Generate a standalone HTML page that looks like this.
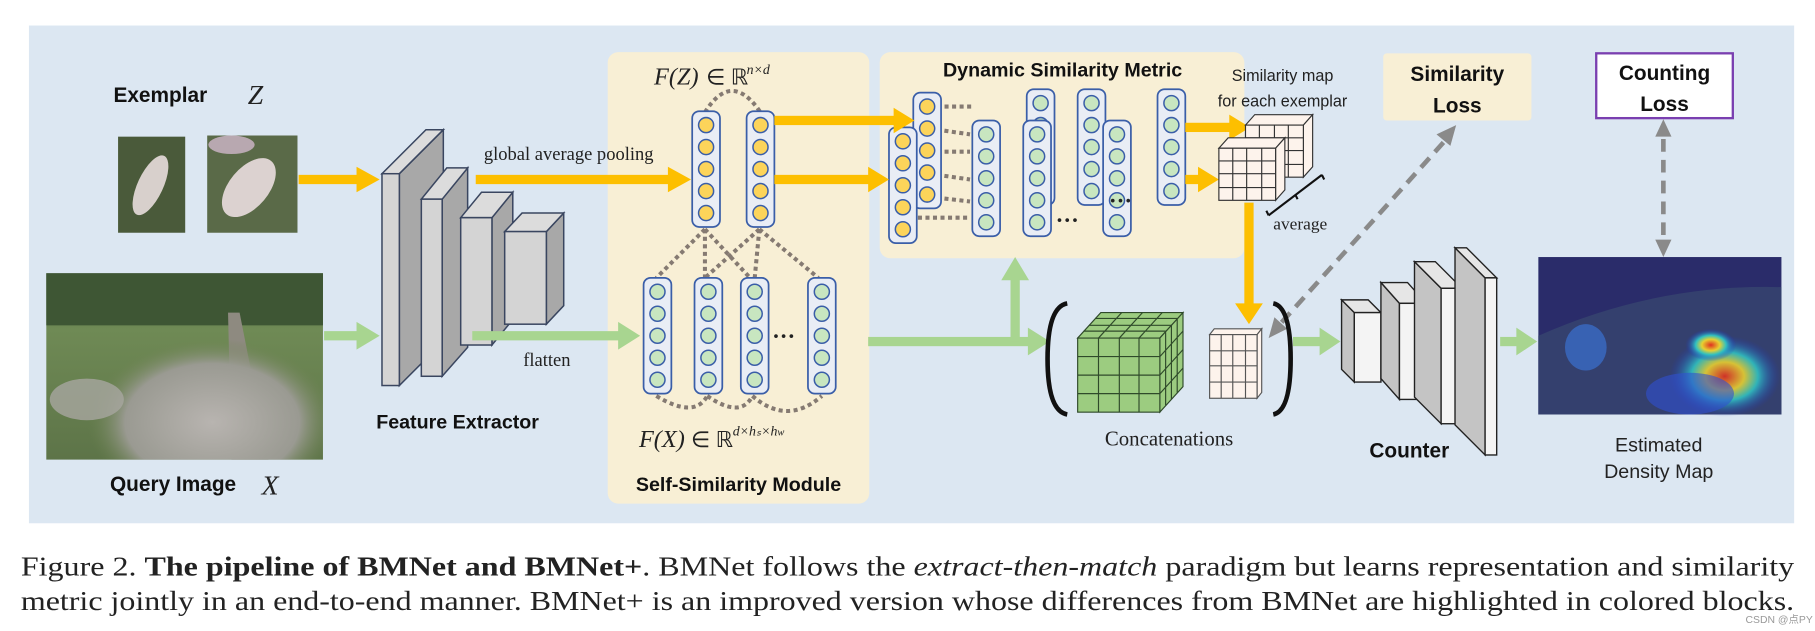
<!DOCTYPE html>
<html><head><meta charset="utf-8"><style>
html,body{margin:0;padding:0;background:#fff;width:1815px;height:631px;overflow:hidden}
svg{display:block}
.sb{font-family:"Liberation Sans","DejaVu Sans",sans-serif;font-weight:bold;fill:#111}
.s{font-family:"Liberation Sans","DejaVu Sans",sans-serif;fill:#222}
.sf{font-family:"Liberation Serif",serif;fill:#222}
</style></head><body>
<svg width="1815" height="631" viewBox="0 0 1568 545" xmlns="http://www.w3.org/2000/svg">
<defs>
<g id="vy"><rect x="0" y="0" width="24" height="100" rx="6" fill="#e9edf5" stroke="#3a5ea8" stroke-width="1.5"/>
<g fill="#fcd45a" stroke="#3a5ea8" stroke-width="1.3"><circle cx="12" cy="12" r="6.5"/><circle cx="12" cy="31" r="6.5"/><circle cx="12" cy="50" r="6.5"/><circle cx="12" cy="69" r="6.5"/><circle cx="12" cy="88" r="6.5"/></g></g>
<g id="vg"><rect x="0" y="0" width="24" height="100" rx="6" fill="#e9edf5" stroke="#3a5ea8" stroke-width="1.5"/>
<g fill="#c8e6c0" stroke="#3a5ea8" stroke-width="1.3"><circle cx="12" cy="12" r="6.5"/><circle cx="12" cy="31" r="6.5"/><circle cx="12" cy="50" r="6.5"/><circle cx="12" cy="69" r="6.5"/><circle cx="12" cy="88" r="6.5"/></g></g>
<linearGradient id="field" x1="0" y1="0" x2="0" y2="1"><stop offset="0" stop-color="#3f5a35"/><stop offset="0.3" stop-color="#6f8a55"/><stop offset="1" stop-color="#5d7448"/></linearGradient>
<radialGradient id="sheep" cx="0.6" cy="0.8" r="0.45"><stop offset="0" stop-color="#b8b4b0"/><stop offset="0.7" stop-color="#9a9a92"/><stop offset="1" stop-color="#6d8250" stop-opacity="0"/></radialGradient>
<radialGradient id="hot" cx="0.5" cy="0.5" r="0.5"><stop offset="0" stop-color="#e03020"/><stop offset="0.35" stop-color="#e8d030"/><stop offset="0.6" stop-color="#30c0c0"/><stop offset="1" stop-color="#2030c0" stop-opacity="0"/></radialGradient>
</defs>
<rect x="25" y="22" width="1525" height="430" fill="#dce7f2"/>
<!-- exemplar -->
<text x="98" y="88" class="sb" font-size="18">Exemplar</text>
<text x="214" y="90" class="sf" font-size="24" font-style="italic">Z</text>
<rect x="102" y="118" width="58" height="83" fill="#4a5a3a"/>
<ellipse cx="130" cy="160" rx="11" ry="28" fill="#d8d0cc" transform="rotate(25 130 160)"/>
<rect x="179" y="117" width="78" height="84" fill="#5a6a48"/>
<ellipse cx="215" cy="162" rx="17" ry="30" fill="#dcd2d0" transform="rotate(40 215 162)"/>
<ellipse cx="200" cy="125" rx="20" ry="8" fill="#b8a8b0"/>
<!-- query -->
<rect x="40" y="236" width="239" height="161" fill="url(#field)"/>
<rect x="40" y="236" width="239" height="45" fill="#3e5634"/>
<path d="M197 270 L207 270 L232 397 L200 397Z" fill="#8e8a80"/>
<rect x="40" y="236" width="239" height="161" fill="url(#sheep)"/>
<ellipse cx="75" cy="345" rx="32" ry="18" fill="#a8a6a0" opacity="0.8"/>
<text x="95" y="424" class="sb" font-size="18">Query Image</text>
<text x="226" y="427" class="sf" font-size="24" font-style="italic">X</text>
<!-- feature extractor -->
<g stroke="#3a4660" stroke-width="1.3">
<polygon points="345,150 383,112 383,295 345,333" fill="#a8a8a8"/><polygon points="330,150 345,150 383,112 368,112" fill="#dcdcdc"/><rect x="330" y="150" width="15" height="183" fill="#d4d4d4"/>
<polygon points="382,172 404,145 404,300 382,325" fill="#a8a8a8"/><polygon points="364,172 382,172 404,145 386,145" fill="#dcdcdc"/><rect x="364" y="172" width="18" height="153" fill="#d4d4d4"/>
<polygon points="425,188 443,166 443,276 425,298" fill="#a8a8a8"/><polygon points="398,188 425,188 443,166 416,166" fill="#dcdcdc"/><rect x="398" y="188" width="27" height="110" fill="#d4d4d4"/>
<polygon points="472,200 487,184 487,264 472,280" fill="#a8a8a8"/><polygon points="436,200 472,200 487,184 451,184" fill="#dcdcdc"/><rect x="436" y="200" width="36" height="80" fill="#d4d4d4"/>
</g>
<text x="325" y="370" class="sb" font-size="17">Feature Extractor</text>
<!-- self-similarity module -->
<rect x="525" y="45" width="226" height="390" rx="9" fill="#f8efd5"/>
<text x="638" y="424" class="sb" font-size="17" text-anchor="middle">Self-Similarity Module</text>
<text x="565" y="73" class="sf" font-size="21" font-style="italic">F(Z)</text><text x="610" y="73" class="sf" font-size="19">∈ ℝ</text><text x="645" y="64" class="sf" font-size="12" font-style="italic">n×d</text>
<text x="552" y="386" class="sf" font-size="21" font-style="italic">F(X)</text><text x="597" y="386" class="sf" font-size="19">∈ ℝ</text><text x="633" y="376" class="sf" font-size="12" font-style="italic">d×hₛ×h<tspan font-size="9">w</tspan></text>
<g stroke="#857a72" stroke-width="3.5" stroke-dasharray="3.5 3" fill="none">
<path d="M609 97 Q632 60 657 97"/>
<path d="M609 198 L567 240 M609 198 L609 240 M609 198 L648 240 M656 198 L609 240 M656 198 L652 240 M656 198 L707 240"/>
<path d="M567 342 Q600 362 611 342 M611 342 Q640 362 650 342 M650 342 Q680 368 710 342"/>
</g>
<use href="#vy" x="598" y="96"/><use href="#vy" x="645" y="96"/>
<use href="#vg" x="556" y="240"/><use href="#vg" x="600" y="240"/><use href="#vg" x="640" y="240"/><use href="#vg" x="698" y="240"/>
<text x="667" y="297" class="sf" font-size="20" font-weight="bold">···</text>
<!-- DSM -->
<rect x="760" y="45" width="315" height="178" rx="9" fill="#f8efd5"/>
<text x="918" y="66" class="sb" font-size="17" text-anchor="middle">Dynamic Similarity Metric</text>
<g stroke="#857a72" stroke-width="3.5" stroke-dasharray="3.5 3" fill="none">
<path d="M803 92 L842 92 M803 111 L838 116 M803 131 L838 131 M803 150 L838 155 M803 170 L838 174 M780 188 L838 188"/>
</g>
<use href="#vg" x="887" y="77"/><use href="#vg" x="931" y="77"/><use href="#vg" x="1000" y="77"/>
<use href="#vg" x="840" y="104"/><use href="#vg" x="884" y="104"/><use href="#vg" x="953" y="104"/>
<use href="#vy" x="789" y="80"/><use href="#vy" x="768" y="110"/>
<text x="958" y="180" class="sf" font-size="20" font-weight="bold">···</text>
<text x="912" y="197" class="sf" font-size="20" font-weight="bold">···</text>
<!-- yellow arrows -->
<g fill="#fdbf00" stroke="none">
<rect x="258" y="151" width="52" height="8"/><polygon points="308,144 328,155 308,166"/>
<rect x="411" y="151" width="168" height="8"/><polygon points="577,144 597,155 577,166"/>
<rect x="669" y="100" width="105" height="8"/><polygon points="772,93 790,104 772,115"/>
<rect x="669" y="151" width="82" height="8"/><polygon points="750,144 768,155 750,166"/>
<rect x="1024" y="106" width="40" height="8"/><polygon points="1062,99 1080,110 1062,121"/>
<rect x="1024" y="151" width="12" height="8"/><polygon points="1035,144 1053,155 1035,166"/>
<rect x="1075" y="175" width="8" height="90"/><polygon points="1067,262 1091,262 1079,280"/>
</g>
<text x="418" y="138" class="sf" font-size="16">global average pooling</text>
<!-- green arrows -->
<g fill="#a8d590">
<rect x="280" y="286" width="30" height="8"/><polygon points="308,278 328,290 308,302"/>
<rect x="408" y="286" width="128" height="8"/><polygon points="534,278 553,290 534,302"/>
<rect x="750" y="291" width="140" height="8"/><polygon points="888,283 907,295 888,307"/>
<rect x="873" y="240" width="8" height="55"/><polygon points="865,242 889,242 877,222"/>
<rect x="1117" y="291" width="24" height="8"/><polygon points="1140,283 1158,295 1140,307"/>
<rect x="1296" y="291" width="16" height="8"/><polygon points="1310,283 1328,295 1310,307"/>
</g>
<text x="452" y="316" class="sf" font-size="16">flatten</text>
<!-- similarity map cubes -->
<g stroke="#333" stroke-width="1" fill="#fdf3ec">
<polygon points="1076,108 1084,99 1134,99 1126,108"/><polygon points="1126,108 1134,99 1134,144 1126,153"/><rect x="1076" y="108" width="50" height="45"/>
<path d="M1088 108 V153 M1101 108 V153 M1113 108 V153 M1076 119 H1126 M1076 130 H1126 M1076 142 H1126" fill="none"/>
<polygon points="1053,128 1061,119 1110,119 1102,128"/><polygon points="1102,128 1110,119 1110,164 1102,173"/><rect x="1053" y="128" width="49" height="45"/>
<path d="M1065 128 V173 M1077 128 V173 M1090 128 V173 M1053 139 H1102 M1053 150 H1102 M1053 162 H1102" fill="none"/>
</g>
<path d="M1096 186 L1142 151 M1096 186 l-2 -4 M1142 151 l2 4 M1119 168 l2 4" stroke="#111" stroke-width="1.8" fill="none"/>
<text x="1100" y="198" class="sf" font-size="15">average</text>
<text x="1108" y="70" class="s" font-size="14" text-anchor="middle">Similarity map</text>
<text x="1108" y="92" class="s" font-size="14" text-anchor="middle">for each exemplar</text>
<!-- loss boxes -->
<rect x="1195" y="46" width="128" height="58" rx="3" fill="#f8efd5"/>
<text x="1259" y="70" class="sb" font-size="18" text-anchor="middle">Similarity</text>
<text x="1259" y="97" class="sb" font-size="18" text-anchor="middle">Loss</text>
<rect x="1379" y="46" width="118" height="56" fill="#fff" stroke="#7a3fb0" stroke-width="2"/>
<text x="1438" y="69" class="sb" font-size="18" text-anchor="middle">Counting</text>
<text x="1438" y="96" class="sb" font-size="18" text-anchor="middle">Loss</text>
<g stroke="#8a8a8a" stroke-width="4" stroke-dasharray="11 7" fill="none">
<path d="M1247 123 L1104 282"/><path d="M1437 120 L1437 208"/>
</g>
<g fill="#8a8a8a"><polygon points="1258,108 1253,126 1241,116"/><polygon points="1096,292 1101,274 1112,284"/>
<polygon points="1437,103 1430,118 1444,118"/><polygon points="1437,222 1430,207 1444,207"/></g>
<!-- brackets -->
<path d="M922 262 Q905 265 905 310 Q905 355 922 358" stroke="#111" stroke-width="4" fill="none"/>
<path d="M1100 262 Q1115 265 1115 310 Q1115 355 1100 358" stroke="#111" stroke-width="4" fill="none"/>
<!-- green cube -->
<g stroke="#2f4a2a" stroke-width="1" fill="#9ccc80">
<polygon points="931,292 951,270 1022,270 1002,292"/><polygon points="1002,292 1022,270 1022,334 1002,356"/><rect x="931" y="292" width="71" height="64"/>
<path d="M949 292 V356 M967 292 V356 M984 292 V356 M931 308 H1002 M931 324 H1002 M931 340 H1002 M936 286 H1007 M941 281 H1012 M946 275 H1017 M969 270 L949 292 M987 270 L967 292 M1004 270 L984 292 M1007 287 V350 M1012 281 V345 M1017 276 V339 M1002 308 L1022 286 M1002 324 L1022 302 M1002 340 L1022 318" fill="none"/>
</g>
<g stroke="#555" stroke-width="1" fill="#fdf3ec">
<polygon points="1045,289 1049,284 1090,284 1086,289"/><polygon points="1086,289 1090,284 1090,339 1086,344"/><rect x="1045" y="289" width="41" height="55"/>
<path d="M1055 289 V344 M1065 289 V344 M1076 289 V344 M1045 303 H1086 M1045 316 H1086 M1045 330 H1086" fill="none"/>
</g>
<text x="1010" y="385" class="sf" font-size="18" text-anchor="middle">Concatenations</text>
<!-- counter -->
<g stroke="#222" stroke-width="1.2">
<polygon points="1159,259 1170,270 1170,330 1159,319" fill="#c4c4c4"/><polygon points="1159,259 1182,259 1193,270 1170,270" fill="#e6e6e6"/><rect x="1170" y="270" width="23" height="60" fill="#f4f4f4"/>
<polygon points="1193,244 1209,262 1209,345 1193,327" fill="#c4c4c4"/><polygon points="1193,244 1216,244 1232,262 1209,262" fill="#e6e6e6"/><rect x="1209" y="262" width="23" height="83" fill="#f4f4f4"/>
<polygon points="1222,226 1245,249 1245,366 1222,343" fill="#c4c4c4"/><polygon points="1222,226 1240,226 1263,249 1245,249" fill="#e6e6e6"/><rect x="1245" y="249" width="18" height="117" fill="#f4f4f4"/>
<polygon points="1257,214 1283,240 1283,393 1257,367" fill="#c4c4c4"/><polygon points="1257,214 1267,214 1293,240 1283,240" fill="#e6e6e6"/><rect x="1283" y="240" width="10" height="153" fill="#f4f4f4"/>
</g>
<text x="1183" y="395" class="sb" font-size="18">Counter</text>
<!-- density map -->
<rect x="1329" y="222" width="210" height="136" fill="#2a2c6a"/>
<path d="M1329 290 Q1430 245 1539 248 L1539 358 L1329 358Z" fill="#34406e"/>
<ellipse cx="1490" cy="325" rx="48" ry="35" fill="url(#hot)" opacity="0.9"/>
<ellipse cx="1478" cy="298" rx="22" ry="14" fill="url(#hot)"/>
<ellipse cx="1370" cy="300" rx="18" ry="20" fill="#3a70d0" opacity="0.7"/>
<ellipse cx="1460" cy="340" rx="38" ry="18" fill="#3050d0" opacity="0.6"/>
<text x="1433" y="390" class="s" font-size="17" text-anchor="middle">Estimated</text>
<text x="1433" y="413" class="s" font-size="17" text-anchor="middle">Density Map</text>
<!-- caption -->
<text x="18" y="497" class="sf" font-size="24" textLength="1532" lengthAdjust="spacingAndGlyphs">Figure 2. <tspan font-weight="bold">The pipeline of BMNet and BMNet+</tspan>. BMNet follows the <tspan font-style="italic">extract-then-match</tspan> paradigm but learns representation and similarity</text>
<text x="18" y="527" class="sf" font-size="24" textLength="1532" lengthAdjust="spacingAndGlyphs">metric jointly in an end-to-end manner. BMNet+ is an improved version whose differences from BMNet are highlighted in colored blocks.</text>
<text x="1508" y="538" font-family="'Liberation Sans','Noto Sans CJK SC',sans-serif" font-size="9" fill="#999">CSDN @点PY</text>
</svg>
</body></html>
